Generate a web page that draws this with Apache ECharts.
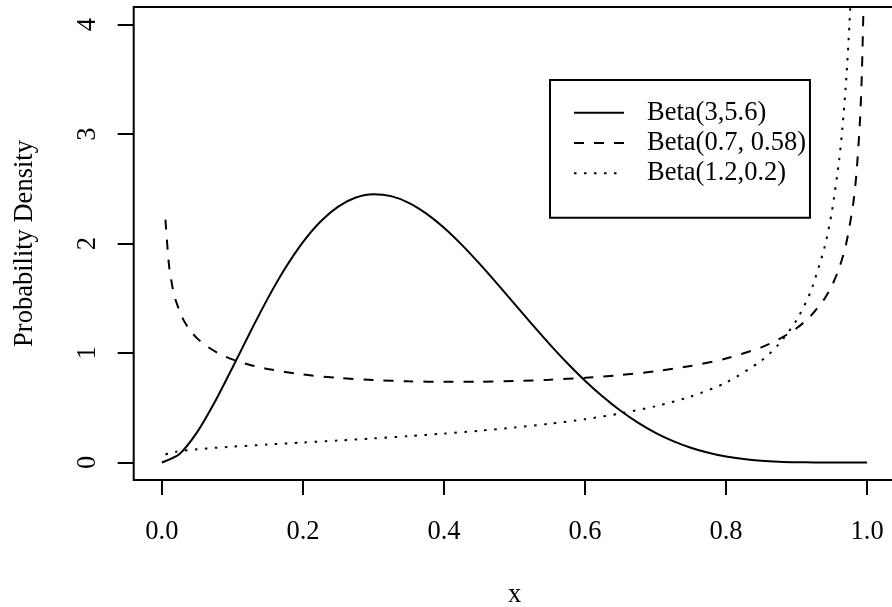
<!DOCTYPE html>
<html>
<head>
<meta charset="utf-8">
<style>
  html, body { margin: 0; padding: 0; background: #fff; }
  #chart { width: 892px; height: 607px; }
</style>
<script src="https://cdn.jsdelivr.net/npm/echarts@6/dist/echarts.min.js"></script>
</head>
<body>
<div id="chart"></div>
<script>
// Beta(3,5.6) density
const xA = [0, 0.025, 0.05, 0.075, 0.1, 0.125, 0.15, 0.175, 0.2, 0.225, 0.25, 0.275, 0.3, 0.325, 0.35, 0.375, 0.4, 0.425, 0.45, 0.475, 0.5, 0.525, 0.55, 0.575, 0.6, 0.625, 0.65, 0.675, 0.7, 0.725, 0.75, 0.775, 0.8, 0.825, 0.85, 0.875, 0.9, 0.925, 0.95, 0.975, 1];
const yA = [0, 0.0781, 0.2773, 0.5519, 0.8650, 1.1874, 1.4964, 1.7754, 2.0128, 2.2013, 2.3372, 2.4196, 2.4502, 2.4327, 2.3717, 2.2731, 2.1436, 1.9896, 1.8181, 1.6355, 1.4478, 1.2608, 1.0790, 0.9067, 0.7470, 0.6023, 0.4743, 0.3637, 0.2707, 0.1946, 0.1343, 0.0883, 0.0547, 0.0316, 0.0164, 0.0076, 0.0029, 0.0008, 0.0001, 0, 0];

// Beta(0.7, 0.58) density
const xB = [0.005, 0.01, 0.015, 0.02, 0.03, 0.04, 0.05, 0.06, 0.08, 0.1, 0.125, 0.15, 0.2, 0.25, 0.3, 0.35, 0.4, 0.45, 0.5, 0.55, 0.6, 0.65, 0.7, 0.75, 0.8, 0.85, 0.875, 0.9, 0.92, 0.94, 0.95, 0.96, 0.97, 0.98, 0.985, 0.99, 0.9925, 0.995];
const yB = [2.2176, 1.8051, 1.6017, 1.4725, 1.3094, 1.2064, 1.1332, 1.0776, 0.9976, 0.9416, 0.8911, 0.8541, 0.8036, 0.7722, 0.7526, 0.7413, 0.7366, 0.7375, 0.7437, 0.7554, 0.7733, 0.7985, 0.8332, 0.8810, 0.9490, 1.0517, 1.1256, 1.2257, 1.3373, 1.4993, 1.6135, 1.7664, 1.9871, 2.3489, 2.6464, 3.1330, 3.5330, 4.1854];

// Beta(1.2,0.2) density
const xC = [0.005, 0.01, 0.02, 0.03, 0.05, 0.075, 0.1, 0.15, 0.2, 0.25, 0.3, 0.35, 0.4, 0.45, 0.5, 0.55, 0.6, 0.65, 0.7, 0.75, 0.8, 0.85, 0.875, 0.9, 0.92, 0.94, 0.95, 0.96, 0.965, 0.97, 0.975, 0.98];
const yC = [0.0732, 0.0845, 0.0978, 0.1070, 0.1205, 0.1335, 0.1445, 0.1640, 0.1824, 0.2008, 0.2201, 0.2408, 0.2637, 0.2895, 0.3191, 0.3538, 0.3956, 0.4473, 0.5135, 0.6024, 0.7295, 0.9295, 1.0818, 1.3004, 1.5615, 1.9740, 2.2888, 2.7416, 3.0541, 3.4586, 4.0058, 4.7936];

const seriesNames = ['Beta(3,5.6)', 'Beta(0.7, 0.58)', 'Beta(1.2,0.2)'];
const xTicks = [0, 0.2, 0.4, 0.6, 0.8, 1.0];
const yTicks = [0, 1, 2, 3, 4];

const FONT = "'Liberation Serif', 'Times New Roman', serif";
const pairs = (xs, ys) => xs.map((x, i) => [x, ys[i]]);

const chart = echarts.init(document.getElementById('chart'), null, { renderer: 'canvas' });

const lineSeries = (name, xs, ys, dash) => ({
  name: name,
  type: 'line',
  data: pairs(xs, ys),
  symbol: 'none',
  smooth: 0.25,
  clip: true,
  itemStyle: { color: '#000' },
  lineStyle: { color: '#000', width: 2, type: dash, cap: 'butt' },
  emphasis: { disabled: true }
});

chart.setOption({
  animation: false,
  backgroundColor: '#fff',
  grid: {
    left: 133.7, top: 7, width: 761.6, height: 473,
    show: true, borderColor: '#000', borderWidth: 2,
    containLabel: false, outerBoundsMode: 'none'
  },
  xAxis: {
    type: 'value', min: -0.04, max: 1.04,
    name: 'x', nameLocation: 'middle', nameGap: 115,
    nameTextStyle: { fontFamily: FONT, fontSize: 26.5, color: '#000', verticalAlign: 'middle' },
    axisLine: { show: false, onZero: false },
    splitLine: { show: false },
    axisTick: { show: true, customValues: xTicks, length: 15, inside: false, lineStyle: { color: '#000', width: 2 } },
    axisLabel: {
      customValues: xTicks, margin: 52, verticalAlign: 'middle',
      fontFamily: FONT, fontSize: 26.5, color: '#000',
      formatter: v => Number(v).toFixed(1)
    }
  },
  yAxis: {
    type: 'value', min: -0.16, max: 4.16,
    name: 'Probability Density', nameLocation: 'middle', nameGap: 109, nameRotate: 90,
    nameTextStyle: { fontFamily: FONT, fontSize: 26.5, color: '#000', verticalAlign: 'middle', align: 'center' },
    axisLine: { show: false, onZero: false },
    splitLine: { show: false },
    axisTick: { show: true, customValues: yTicks, length: 16, inside: false, lineStyle: { color: '#000', width: 2 } },
    axisLabel: {
      customValues: yTicks, margin: 46, rotate: 90, align: 'center', verticalAlign: 'middle',
      fontFamily: FONT, fontSize: 26.5, color: '#000',
      formatter: v => String(Math.round(v))
    }
  },
  legend: {
    orient: 'vertical', left: 550, top: 80,
    data: seriesNames,
    itemWidth: 50, itemHeight: 26, itemGap: 3.2,
    padding: [19.3, 4, 31, 23],
    borderColor: '#000', borderWidth: 2, borderRadius: 0,
    selectedMode: false,
    itemStyle: { opacity: 0 },
    textStyle: { fontFamily: FONT, fontSize: 26.5, color: '#000', lineHeight: 26, padding: [0, 0, 0, 18] }
  },
  series: [
    lineSeries(seriesNames[0], xA, yA, 'solid'),
    lineSeries(seriesNames[1], xB, yB, [10, 10]),
    lineSeries(seriesNames[2], xC, yC, [2.5, 7.5])
  ]
});
</script>
</body>
</html>
